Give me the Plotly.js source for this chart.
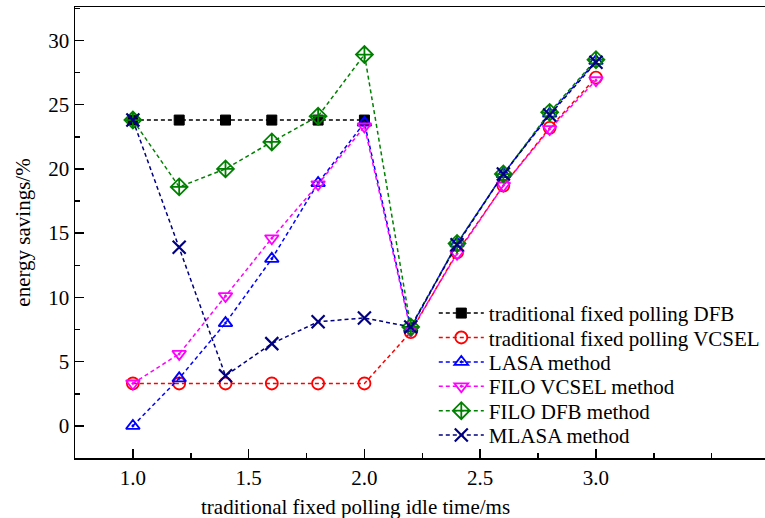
<!DOCTYPE html>
<html>
<head>
<meta charset="utf-8">
<script src="https://cdn.plot.ly/plotly-3.0.1.min.js"></script>
<style>html,body{margin:0;padding:0;background:#fff;}#chart{width:765px;height:518px;}</style>
</head>
<body>
<div id="chart"></div>
<script>
const xAll = [1.0, 1.2, 1.4, 1.6, 1.8, 2.0, 2.2, 2.4, 2.6, 2.8, 3.0];
const xDFB = [1.0, 1.2, 1.4, 1.6, 1.8, 2.0];
const dfbFixed = [23.8, 23.8, 23.8, 23.8, 23.8, 23.8];
const vcselFixed = [3.3, 3.3, 3.3, 3.3, 3.3, 3.3, 7.3, 13.5, 18.7, 23.2, 27.1];
const lasa = [0, 3.7, 8.0, 13.0, 18.9, 23.6, 7.6, 14.2, 19.6, 24.3, 28.4];
const filoVcsel = [3.3, 5.6, 10.1, 14.6, 18.8, 23.3, 7.4, 13.4, 18.7, 23.1, 26.9];
const filoDfb = [23.8, 18.6, 20.0, 22.1, 24.1, 28.9, 7.7, 14.2, 19.6, 24.4, 28.5];
const mlasa = [23.8, 13.9, 3.9, 6.4, 8.1, 8.4, 7.7, 14.1, 19.6, 24.2, 28.3];
const names = ["traditional fixed polling DFB", "traditional fixed polling VCSEL", "LASA method", "FILO VCSEL method", "FILO DFB method", "MLASA method"];
const xTickVals = [1.0, 1.5, 2.0, 2.5, 3.0];
const xTickText = ["1.0", "1.5", "2.0", "2.5", "3.0"];
const yTickVals = [0, 5, 10, 15, 20, 25, 30];
const xTitle = "traditional fixed polling idle time/ms";
const yTitle = "energy savings/%";

const dash = "4px,3px";
function tr(x, y, name, color, symbol, size, lw) {
  return {
    x: x, y: y, name: name, type: "scatter", mode: "lines+markers",
    line: {color: color, width: 1.5, dash: dash},
    marker: {symbol: symbol, size: size, color: color, line: {color: color, width: lw}}
  };
}
const data = [
  tr(xDFB, dfbFixed, names[0], "#000000", "square", 10, 1),
  tr(xAll, vcselFixed, names[1], "#ff0000", "circle-open", 12, 1.8),
  tr(xAll, lasa, names[2], "#0000ff", "triangle-up-open-dot", 12, 1.8),
  tr(xAll, filoVcsel, names[3], "#ff00ff", "triangle-down-open-dot", 12, 1.8),
  tr(xAll, filoDfb, names[4], "#008000", "diamond-cross-open", 13, 1.8),
  tr(xAll, mlasa, names[5], "#000080", "x-thin-open", 13, 2.2)
];
const fam = "Liberation Serif, Times New Roman, serif";
const layout = {
  width: 765, height: 518,
  margin: {l: 75, r: 0, t: 7, b: 60},
  paper_bgcolor: "#fff", plot_bgcolor: "#fff",
  font: {family: fam, color: "#000", size: 21},
  showlegend: true,
  legend: {x: 0.52, y: 0.366, xanchor: "left", yanchor: "top", bgcolor: "rgba(0,0,0,0)", itemwidth: 45,
           font: {family: fam, size: 21, color: "#000"}, tracegroupgap: 0},
  xaxis: {
    range: [0.75, 3.73], tickvals: xTickVals, ticktext: xTickText,
    ticks: "inside", ticklen: 9, tickwidth: 1.5, tickcolor: "#000",
    minor: {dtick: 0.25, tick0: 0.75, ticks: "inside", ticklen: 5, tickwidth: 1.5, tickcolor: "#000"},
    showline: true, linecolor: "#000", linewidth: 1.5, mirror: true,
    showgrid: false, zeroline: false,
    tickfont: {family: fam, size: 21}
  },
  yaxis: {
    range: [-2.5, 32.6], tickvals: yTickVals,
    ticks: "inside", ticklen: 9, tickwidth: 1.5, tickcolor: "#000",
    minor: {dtick: 2.5, tick0: 0, ticks: "inside", ticklen: 5, tickwidth: 1.5, tickcolor: "#000"},
    showline: true, linecolor: "#000", linewidth: 1.5,
    showgrid: false, zeroline: false,
    tickfont: {family: fam, size: 21},
    title: {text: yTitle, font: {family: fam, size: 21}, standoff: 12}
  },
  annotations: [{
    text: xTitle, xref: "paper", yref: "paper", x: 0.406, y: 0,
    xanchor: "center", yanchor: "top", yshift: -35, showarrow: false,
    font: {family: fam, size: 21, color: "#000"}
  }]
};
Plotly.newPlot("chart", data, layout, {displayModeBar: false, staticPlot: true}).then(function (gd) {
  // tighten legend row spacing to match reference
  const items = gd.querySelectorAll(".legend .traces");
  let y0 = null;
  items.forEach(function (el, i) {
    const t = el.getAttribute("transform") || "";
    const m = t.match(/translate\(([-\d.]+)[ ,]+([-\d.]+)\)/);
    if (!m) return;
    const x = parseFloat(m[1]);
    const y = parseFloat(m[2]);
    if (y0 === null) y0 = y;
    el.setAttribute("transform", "translate(" + x + "," + (y0 + i * 24.4) + ")");
  });
});
</script>
</body>
</html>
